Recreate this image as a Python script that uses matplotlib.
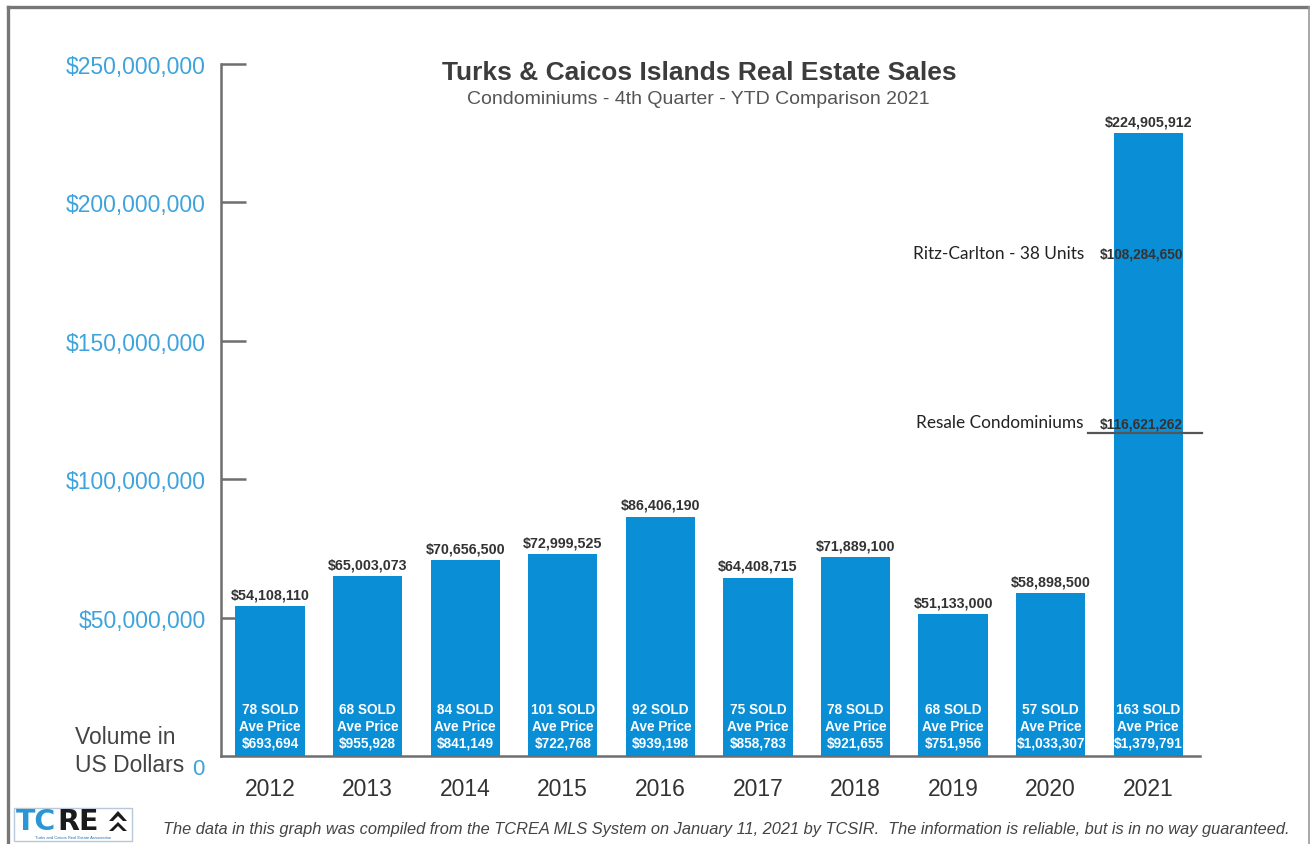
import matplotlib
matplotlib.use("Agg")
import matplotlib.pyplot as plt
from matplotlib.lines import Line2D
from matplotlib.patches import Rectangle, Polygon
from matplotlib.ticker import FuncFormatter

# ---- data -------------------------------------------------------------
years = ["2012", "2013", "2014", "2015", "2016", "2017", "2018", "2019", "2020", "2021"]
volumes = [54108110, 65003073, 70656500, 72999525, 86406190,
           64408715, 71889100, 51133000, 58898500, 224905912]
units_sold = [78, 68, 84, 101, 92, 75, 78, 68, 57, 163]
ave_price = [693694, 955928, 841149, 722768, 939198,
             858783, 921655, 751956, 1033307, 1379791]
ritz_volume = 108284650
resale_volume = 116621262

# ---- style ------------------------------------------------------------
BAR = "#0a8ed6"
TICK_BLUE = "#3ea3dc"
DARK = "#333333"
GRAY = "#6e6e6e"
plt.rcParams["font.family"] = ["Liberation Sans", "DejaVu Sans"]

fig = plt.figure(figsize=(13.1, 8.45), dpi=100)
ax = fig.add_axes([0.1687, 0.1041, 0.7473, 0.8190])

x = list(range(len(years)))
ax.bar(x, volumes, width=0.71, color=BAR, zorder=2)

ax.set_xlim(-0.502, 9.53)
ax.set_ylim(0, 250e6)

for s in ("top", "right"):
    ax.spines[s].set_visible(False)
for s in ("left", "bottom"):
    ax.spines[s].set_color(GRAY)
    ax.spines[s].set_linewidth(1.8)

ax.set_yticks([50e6, 100e6, 150e6, 200e6, 250e6])
ax.yaxis.set_major_formatter(FuncFormatter(lambda v, p: f"${v:,.0f}"))
ax.tick_params(axis="y", direction="in", length=18, width=1.8, color=GRAY,
               labelsize=16.5, labelcolor=TICK_BLUE, pad=11)
ax.set_xticks(x)
ax.set_xticklabels(years)
ax.tick_params(axis="x", length=0, labelsize=16.5, labelcolor=DARK, pad=15)

# zero label sits a little below the baseline
ax.annotate("0", xy=(0, 0), xycoords="axes fraction", xytext=(-12, -9),
            textcoords="offset points", ha="right", va="center",
            fontsize=16, color=TICK_BLUE, annotation_clip=False)

# value labels above the bars
for i, v in enumerate(volumes):
    ax.annotate(f"${v:,.0f}", xy=(i, v), xytext=(0, 3.5), textcoords="offset points",
                ha="center", va="bottom", fontsize=10.3, fontweight="bold",
                color=DARK)

# units sold and average price inside the bars
for i, (n, p) in enumerate(zip(units_sold, ave_price)):
    lines = [f"{n} SOLD", "Ave Price", f"${p:,.0f}"]
    for line, off in zip(lines, (33.8, 21.6, 9.4)):
        ax.annotate(line, xy=(i, 0), xytext=(0, off), textcoords="offset points",
                    ha="center", va="center", fontsize=9.8, fontweight="bold",
                    color="white", zorder=3)

# 2021 breakdown
last = len(years) - 1
note_font = ["Lato", "DejaVu Sans"]
ax.text(last - 0.07, 181.7e6, f"${ritz_volume:,.0f}", ha="center", va="center",
        fontsize=9.8, fontweight="bold", color=DARK, zorder=3)
ax.text(last - 0.66, 181.7e6, "Ritz-Carlton - 38 Units", ha="right", va="center",
        fontsize=12.4, color="#222222", family=note_font)
ax.annotate(f"${resale_volume:,.0f}", xy=(last - 0.07, resale_volume), xytext=(0, 2),
            textcoords="offset points", ha="center", va="bottom",
            fontsize=9.8, fontweight="bold", color=DARK, zorder=3)
ax.annotate("Resale Condominiums", xy=(last - 0.66, resale_volume), xytext=(0, 2),
            textcoords="offset points", ha="right", va="bottom",
            fontsize=12.4, color="#222222", family=note_font)
ax.plot([last - 0.62, last + 0.55], [resale_volume, resale_volume],
        color="#555555", lw=1.6, clip_on=False, zorder=4)

# ---- titles and notes ------------------------------------------------
fig.text(0.5336, 0.9136, "Turks & Caicos Islands Real Estate Sales", ha="center",
         va="center", fontsize=19, fontweight="bold", color="#3c3c3c")
fig.text(0.5330, 0.8828, "Condominiums - 4th Quarter - YTD Comparison 2021",
         ha="center", va="center", fontsize=14, color="#555555")
fig.text(75 / 1310, 1 - 738 / 845, "Volume in", ha="left", va="center",
         fontsize=16.5, color="#444444")
fig.text(75 / 1310, 1 - 766 / 845, "US Dollars", ha="left", va="center",
         fontsize=16.5, color="#444444")
fig.text(163 / 1310, 1 - 830 / 845,
         "The data in this graph was compiled from the TCREA MLS System on January 11, "
         "2021 by TCSIR.  The information is reliable, but is in no way guaranteed.",
         ha="left", va="center", fontsize=11.8, style="italic", color="#444444")

# ---- logo --------------------------------------------------------------
fig.patches.append(Rectangle((14 / 1310, 1 - 842 / 845), 118 / 1310, 33 / 845,
                             transform=fig.transFigure, facecolor="white",
                             edgecolor="#b8c8d8", lw=1.0))
logo_font = ["DejaVu Sans"]
fig.text(16 / 1310, 1 - 822 / 845, "TC", ha="left", va="center", fontsize=20.5,
         fontweight="bold", color="#2a96d4", family=logo_font)
fig.text(57 / 1310, 1 - 822 / 845, "RE", ha="left", va="center", fontsize=20.5,
         fontweight="bold", color="#1b1b1b", family=logo_font)
fig.patches.append(Polygon([(109 / 1310, 1 - 822 / 845), (118 / 1310, 1 - 812 / 845),
                            (127 / 1310, 1 - 822 / 845), (123 / 1310, 1 - 822 / 845),
                            (118 / 1310, 1 - 817 / 845), (113 / 1310, 1 - 822 / 845)],
                           closed=True, transform=fig.transFigure,
                           facecolor="#1b1b1b", edgecolor="none"))
fig.patches.append(Polygon([(109 / 1310, 1 - 832 / 845), (118 / 1310, 1 - 823 / 845),
                            (127 / 1310, 1 - 832 / 845), (123 / 1310, 1 - 832 / 845),
                            (118 / 1310, 1 - 827 / 845), (113 / 1310, 1 - 832 / 845)],
                           closed=True, transform=fig.transFigure,
                           facecolor="#1b1b1b", edgecolor="none"))
fig.text(73 / 1310, 1 - 838 / 845, "Turks and Caicos Real Estate Association",
         ha="center", va="center", fontsize=3, color="#2a6fa8")

# ---- outer frame ---------------------------------------------------------
frame = dict(transform=fig.transFigure, color="#777777")
fig.lines.append(Line2D([7.5 / 1310, 7.5 / 1310], [0, 1 - 7.5 / 845], lw=2.4, **frame))
fig.lines.append(Line2D([7.5 / 1310, 1], [1 - 7.5 / 845, 1 - 7.5 / 845], lw=2.4, **frame))
fig.lines.append(Line2D([1308.5 / 1310, 1308.5 / 1310], [0, 1 - 7.5 / 845], lw=1.2,
                        transform=fig.transFigure, color="#999999"))

fig.savefig("out.png", dpi=100)
